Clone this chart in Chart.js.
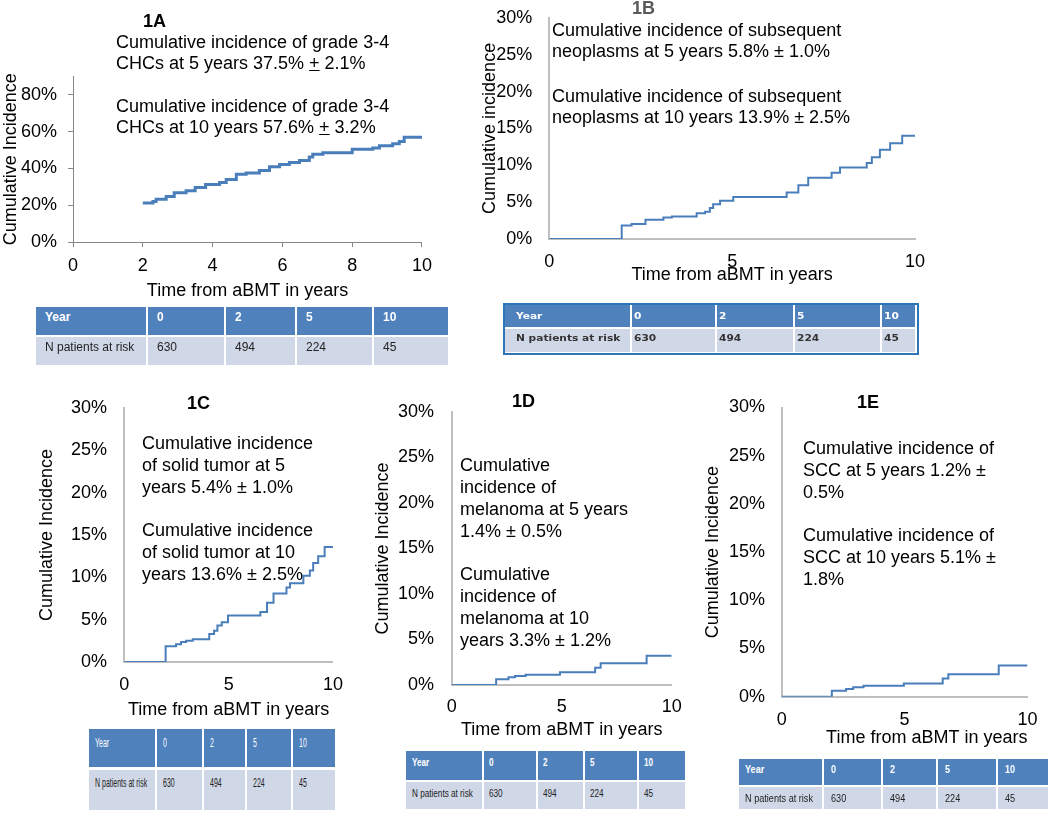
<!DOCTYPE html>
<html><head><meta charset="utf-8">
<script src="https://cdn.jsdelivr.net/npm/chart.js@4.4.1/dist/chart.umd.min.js"></script>
<style>
html,body{margin:0;padding:0;background:#fff;}
#page{position:relative;width:1050px;height:816px;overflow:hidden;background:#fff;font-family:"Liberation Sans",Arial,sans-serif;}
#page canvas{position:absolute;z-index:1;}
.ann{position:absolute;font-size:18px;color:#000;white-space:nowrap;z-index:2;}
.lbl{position:absolute;font-size:18px;font-weight:bold;line-height:20px;color:#000;z-index:2;}
.cell{position:absolute;z-index:2;overflow:visible;}
.cell span{position:absolute;white-space:nowrap;transform-origin:0 50%;}
</style></head>
<body><div id="page">
<div class="lbl" style="left:143px;top:11px">1A</div>
<div class="ann" style="left:116px;top:31.5px;line-height:21px">Cumulative incidence of grade 3-4<br>CHCs at 5 years 37.5% <u>+</u> 2.1%</div>
<div class="ann" style="left:116px;top:95.5px;line-height:21px">Cumulative incidence of grade 3-4<br>CHCs at 10 years 57.6% <u>+</u> 3.2%</div>

<div class="lbl" style="left:632px;top:-2px;color:#595959">1B</div>
<div class="ann" style="left:552px;top:19.5px;line-height:21px">Cumulative incidence of subsequent<br>neoplasms at 5 years 5.8% ± 1.0%</div>
<div class="ann" style="left:552px;top:85.5px;line-height:21px">Cumulative incidence of subsequent<br>neoplasms at 10 years 13.9% ± 2.5%</div>

<div class="lbl" style="left:187px;top:393px">1C</div>
<div class="ann" style="left:142px;top:432px;line-height:22px">Cumulative incidence<br>of solid tumor at 5<br>years 5.4% ± 1.0%</div>
<div class="ann" style="left:142px;top:519px;line-height:22px">Cumulative incidence<br>of solid tumor at 10<br>years 13.6% ± 2.5%</div>

<div class="lbl" style="left:512px;top:391px">1D</div>
<div class="ann" style="left:460px;top:454px;line-height:22px">Cumulative<br>incidence of<br>melanoma at 5 years<br>1.4% ± 0.5%</div>
<div class="ann" style="left:460px;top:563px;line-height:22px">Cumulative<br>incidence of<br>melanoma at 10<br>years 3.3% ± 1.2%</div>

<div class="lbl" style="left:857px;top:392px">1E</div>
<div class="ann" style="left:803px;top:437px;line-height:22px">Cumulative incidence of<br>SCC at 5 years 1.2% ±<br>0.5%</div>
<div class="ann" style="left:803px;top:524px;line-height:22px">Cumulative incidence of<br>SCC at 10 years 5.1% ±<br>1.8%</div>
</div>
<script>
// ---- data ----
const xTitle = 'Time from aBMT in years';
const yTicksSuffix = '%';
const yTicksA = [0, 20, 40, 60, 80];          // panel 1A y tick values (axis runs to 90%)
const yTicksOther = [0, 5, 10, 15, 20, 25, 30]; // panels 1B-1E
const xTicksA = [0, 2, 4, 6, 8, 10];
const xTicksOther = [0, 5, 10];

const yearsA = [2.0, 2.29, 2.38, 2.67, 2.9, 3.24, 3.5, 3.8, 4.2, 4.39, 4.68, 4.96, 5.34, 5.63, 5.92, 6.2, 6.49, 6.77, 6.87, 7.16, 8.0, 8.59, 8.78, 9.16, 9.35, 9.49, 10];
const incA   = [21.2, 22.0, 23.3, 24.8, 26.8, 27.9, 29.6, 31.3, 32.4, 34.0, 36.8, 37.6, 38.9, 41.0, 42.2, 43.2, 44.3, 46.3, 47.8, 48.6, 50.5, 51.2, 52.4, 53.4, 54.7, 57.0, 57.2];

const yearsB = [0, 1.98, 2.25, 2.63, 3.12, 3.35, 4.03, 4.26, 4.39, 4.48, 4.67, 5.03, 6.49, 6.81, 7.08, 7.72, 7.95, 8.68, 8.82, 9.04, 9.32, 9.65, 10];
const incB   = [0, 1.83, 2.05, 2.6, 2.9, 3.06, 3.5, 3.7, 4.2, 4.7, 5.2, 5.7, 6.3, 7.3, 8.3, 9.0, 9.7, 10.3, 11.1, 12.1, 13.0, 14.0, 14.0];

const yearsC = [0, 1.98, 2.48, 2.72, 2.96, 3.28, 4.07, 4.3, 4.46, 4.67, 4.97, 6.52, 6.84, 7.15, 7.77, 7.94, 8.58, 8.89, 9.05, 9.29, 9.6, 10];
const incC   = [0, 1.85, 2.1, 2.35, 2.5, 2.7, 3.3, 3.7, 4.3, 4.7, 5.5, 5.9, 7.0, 8.1, 8.8, 9.3, 10.2, 10.8, 11.7, 12.5, 13.6, 13.6];

const yearsD = [0, 2.02, 2.58, 2.88, 3.36, 4.92, 6.52, 6.77, 8.86, 10];
const incD   = [0, 0.62, 0.84, 1.0, 1.14, 1.39, 1.9, 2.38, 3.22, 3.22];

const yearsE = [0, 2.04, 2.62, 2.91, 3.33, 4.97, 6.55, 6.78, 8.83, 10];
const incE   = [0, 0.62, 0.79, 0.97, 1.14, 1.38, 1.9, 2.34, 3.24, 3.24];

const riskYears = [0, 2, 5, 10];
const atRisk = [630, 494, 224, 45];
const headLabel = 'Year';
const rowLabel = 'N patients at risk';

// ---- styles ----
const LINE = '#4a7ebb';
const HEAD_BG = '#4f81bd';
const BODY_BG = '#d0d8e8';
Chart.defaults.font.family = '"Liberation Sans", Arial, sans-serif';
Chart.defaults.font.size = 18;
Chart.defaults.color = '#000';

const page = document.getElementById('page');
function pts(xs, ys) { return xs.map((x, i) => ({x: x, y: ys[i]})); }

function makeChart(xs, ys, o) {
  const cv = document.createElement('canvas');
  cv.width = o.W; cv.height = o.H;
  cv.style.left = o.L + 'px'; cv.style.top = o.T + 'px';
  cv.style.width = o.W + 'px'; cv.style.height = o.H + 'px';
  page.appendChild(cv);
  const grid = o.ticks
    ? {display: true, drawOnChartArea: false, drawTicks: true, tickLength: 5, color: o.ac}
    : {display: false, drawTicks: false, tickLength: 0};
  return new Chart(cv, {
    type: 'line',
    data: {datasets: [{data: pts(xs, ys), borderColor: LINE, borderWidth: o.lw, pointRadius: 0,
      stepped: true, fill: false, tension: 0, borderCapStyle: 'butt', borderJoinStyle: 'miter'}]},
    options: {
      responsive: false, animation: false, events: [],
      layout: {padding: {left: o.pl, top: o.pt, right: o.pr, bottom: o.pb}},
      plugins: {legend: {display: false}, tooltip: {enabled: false}},
      scales: {
        x: {type: 'linear', min: 0, max: 10,
          ticks: {padding: o.xtp, maxRotation: 0, autoSkip: false, color: '#000'},
          afterBuildTicks: s => { s.ticks = o.xTicks.map(v => ({value: v})); },
          grid: grid,
          border: {display: true, color: o.ac, width: o.bw},
          title: {display: true, text: xTitle, color: '#000', padding: {top: 0, bottom: 4}, align: o.xAlign || 'center'},
          afterFit: s => { s.height = o.hx; }},
        y: {type: 'linear', min: 0, max: o.yMax,
          ticks: {padding: o.ytp, color: '#000', autoSkip: false, callback: v => v + yTicksSuffix},
          afterBuildTicks: s => { s.ticks = o.yTicks.map(v => ({value: v})); },
          grid: grid,
          border: {display: true, color: o.ac, width: o.bw},
          title: {display: true, text: o.yTitle, color: '#000', padding: {top: 0, bottom: 0}},
          afterFit: s => { s.width = o.wy; }}
      }
    }
  });
}

makeChart(yearsA, incA, {L: 0, T: 0, W: 440, H: 310, pl: 0, pt: 76.6, pr: 17, pb: 4.2, wy: 73, hx: 63.8,
  yMax: 90, yTicks: yTicksA, xTicks: xTicksA, ytp: 11, xtp: 8, ticks: true, ac: '#868686', bw: 1, lw: 3, yTitle: 'Cumulative Incidence'});
makeChart(yearsB, incB, {L: 470, T: -10, W: 470, H: 300, pl: 9.2, pt: 20, pr: 25, pb: 0.2, wy: 70.1, hx: 50.8,
  yMax: 30, yTicks: yTicksOther, xTicks: xTicksOther, ytp: 17, xtp: 12, ticks: false, ac: '#bfbfbf', bw: 2, lw: 2, yTitle: 'Cumulative incidence'});
makeChart(yearsC, incC, {L: 30, T: 380, W: 325, H: 345, pl: 6.2, pt: 16.5, pr: 20, pb: 0.2, wy: 88.1, hx: 62.8,
  yMax: 30, yTicks: yTicksOther, xTicks: xTicksOther, ytp: 17.3, xtp: 12, ticks: false, ac: '#bfbfbf', bw: 2, lw: 2, yTitle: 'Cumulative Incidence'});
makeChart(yearsD, incD, {L: 360, T: 380, W: 335, H: 365, pl: 12.2, pt: 32, pr: 23.3, pb: 0.2, wy: 79.5, hx: 59.8,
  yMax: 30, yTicks: yTicksOther, xTicks: xTicksOther, ytp: 17.7, xtp: 11, ticks: false, ac: '#bfbfbf', bw: 2, lw: 2, yTitle: 'Cumulative Incidence'});
makeChart(yearsE, incE, {L: 690, T: 380, W: 360, H: 373, pl: 12.2, pt: 26.7, pr: 20, pb: 0.2, wy: 79.5, hx: 56.1,
  yMax: 30, yTicks: yTicksOther, xTicks: xTicksOther, ytp: 16.7, xtp: 12.5, ticks: false, ac: '#bfbfbf', bw: 2, lw: 2, yTitle: 'Cumulative Incidence', xAlign: 'end'});

// ---- at-risk tables ----
function makeTable(t) {
  const rows = [[headLabel].concat(riskYears.map(String)), [rowLabel].concat(atRisk.map(String))];
  if (t.outer) {
    const b = document.createElement('div');
    b.className = 'cell';
    b.style.cssText += `left:${t.outer[0]}px;top:${t.outer[1]}px;width:${t.outer[2]}px;height:${t.outer[3]}px;border:2px solid ${t.outerColor};box-sizing:border-box;`;
    page.appendChild(b);
  }
  for (let r = 0; r < 2; r++) {
    for (let c = 0; c < 5; c++) {
      const d = document.createElement('div');
      d.className = 'cell';
      const top = t.rows[r][0], h = t.rows[r][1] - t.rows[r][0];
      const left = t.edges[c], w = t.edges[c + 1] - t.edges[c] - t.gap;
      d.style.cssText += `left:${left}px;top:${top}px;width:${w}px;height:${h}px;background:${r === 0 ? HEAD_BG : BODY_BG};`;
      const s = document.createElement('span');
      s.textContent = rows[r][c];
      const lh = Math.round(t.fs * 1.2);
      s.style.cssText = `left:${c === 0 ? t.pad0 : t.pad}px;top:${t.textY[r] - top - lh / 2}px;font-family:${t.ff};font-size:${t.fs}px;line-height:${lh}px;` +
        `color:${r === 0 ? '#fff' : t.bodyColor};font-weight:${r === 0 ? t.headW : t.bodyW};transform:scaleX(${t.sx});`;
      d.appendChild(s);
      page.appendChild(d);
    }
  }
}
const LS = '"Liberation Sans", Arial, sans-serif';
makeTable({edges: [36, 148, 226, 297, 374, 450], gap: 2, rows: [[307, 335], [337, 365]], textY: [317, 347],
  pad0: 9, pad: 9, ff: LS, fs: 12, sx: 1, headW: 'bold', bodyW: 'normal', bodyColor: '#222'});
makeTable({edges: [505, 632, 717, 795, 882, 917], gap: 2, rows: [[305, 327], [329, 352]], textY: [315, 337.5],
  pad0: 11, pad: 2, ff: '"DejaVu Sans", sans-serif', fs: 9.5, sx: 1.12, headW: 'bold', bodyW: 'bold', bodyColor: '#333',
  outer: [503, 303, 416, 52], outerColor: '#2e75b6'});
makeTable({edges: [89, 157, 204, 247, 293, 337], gap: 2, rows: [[729, 767], [770, 810]], textY: [743, 783],
  pad0: 6, pad: 6, ff: LS, fs: 12.5, sx: 0.56, headW: 'normal', bodyW: 'normal', bodyColor: '#222'});
makeTable({edges: [406, 484, 538, 585, 639, 687], gap: 2, rows: [[751, 780], [782, 809]], textY: [762, 793],
  pad0: 6, pad: 5, ff: LS, fs: 11.5, sx: 0.71, headW: 'bold', bodyW: 'normal', bodyColor: '#222'});
makeTable({edges: [739, 824, 883, 938, 998, 1050], gap: 2, rows: [[759, 785], [787, 809]], textY: [769, 798],
  pad0: 6, pad: 7, ff: LS, fs: 11, sx: 0.83, headW: 'bold', bodyW: 'normal', bodyColor: '#222'});
</script>
</body></html>
